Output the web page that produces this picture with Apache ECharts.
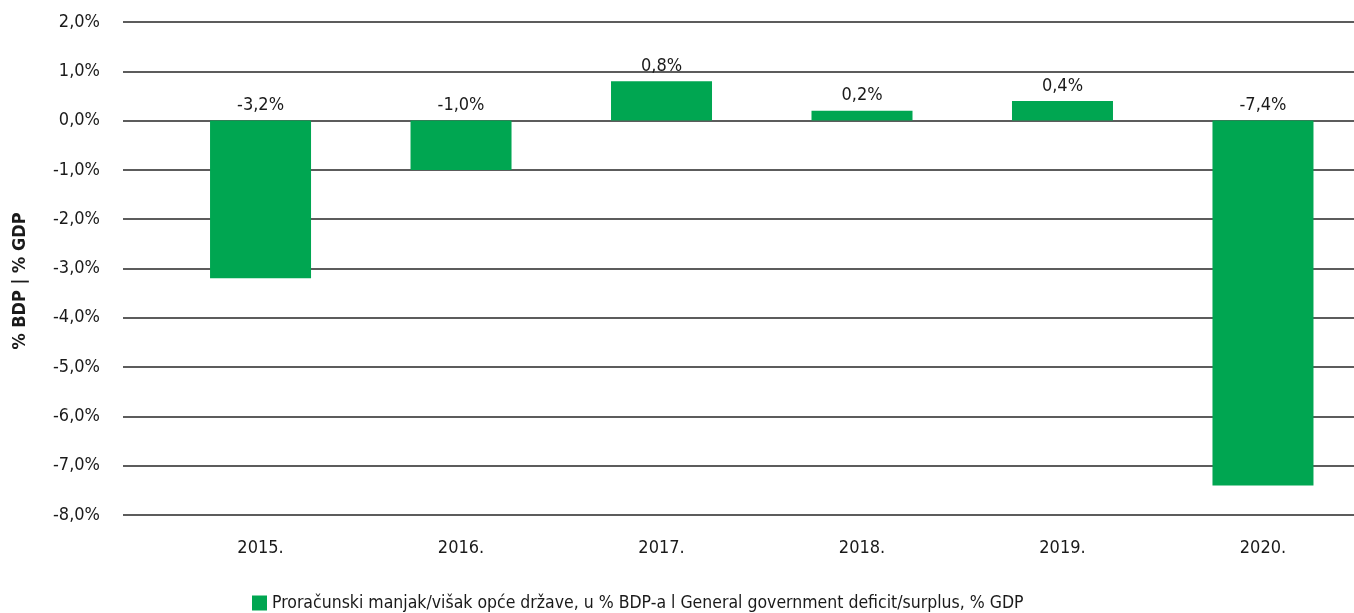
<!DOCTYPE html>
<html>
<head>
<meta charset="utf-8">
<script src="https://cdn.jsdelivr.net/npm/echarts@6/dist/echarts.min.js"></script>
<style>
html,body{margin:0;padding:0;background:#fff;}
#chart{width:1354px;height:613px;}
</style>
</head>
<body>
<div id="chart"></div>
<script>
const categories = ['2015.', '2016.', '2017.', '2018.', '2019.', '2020.'];
const values = [-3.2, -1.0, 0.8, 0.2, 0.4, -7.4];
const seriesName = 'Proračunski manjak/višak opće države, u % BDP-a l General government deficit/surplus, % GDP';
const yAxisName = '% BDP | % GDP';
const yMin = -8, yMax = 2, yStep = 1;

const FONT = '"DejaVu Sans Condensed", "Liberation Sans Narrow", sans-serif';
const TXT = '#1a1a1a';
const fmt = v => v.toFixed(1).replace('.', ',') + '%';

// category slots on a numeric x scale: slot i sits at x = i
const xMin = -0.686, xMax = 5.454;
const barData = values.map((v, i) => [i, v]);

const chart = echarts.init(document.getElementById('chart'), null, {renderer: 'canvas'});
chart.setOption({
  animation: false,
  backgroundColor: '#fff',
  textStyle: {fontFamily: FONT, color: TXT},
  grid: {left: 123, right: 0, top: 22, bottom: 98, containLabel: false},
  xAxis: {
    type: 'value', min: xMin, max: xMax,
    axisLine: {show: false}, axisTick: {show: false}, splitLine: {show: false},
    axisLabel: {fontFamily: FONT, fontSize: 18, color: TXT, margin: 24,
      showMinLabel: false, showMaxLabel: false,
      formatter: v => (Number.isInteger(v) && categories[v] !== undefined) ? categories[v] : ''}
  },
  yAxis: {
    type: 'value', min: yMin, max: yMax, interval: yStep,
    axisLine: {show: false}, axisTick: {show: false},
    splitLine: {lineStyle: {color: '#262626', width: 1.6}},
    axisLabel: {fontFamily: FONT, fontSize: 18, color: TXT, margin: 23, formatter: fmt}
  },
  graphic: [{
    type: 'text',
    x: 20, y: 281,
    rotation: Math.PI / 2,
    style: {text: yAxisName, fontFamily: FONT, fontSize: 18, fontWeight: 'bold', fill: TXT,
      align: 'center', verticalAlign: 'middle'}
  }],
  legend: {
    left: 247, top: 589,
    icon: 'rect', itemWidth: 15, itemHeight: 15, itemGap: 10,
    textStyle: {fontFamily: FONT, fontSize: 17.5, color: TXT},
    data: [seriesName]
  },
  series: [{
    name: seriesName,
    type: 'bar',
    barWidth: 101,
    data: barData,
    itemStyle: {color: '#00A651'},
    label: {show: true, position: 'top', distance: 6, fontFamily: FONT, fontSize: 18, color: TXT,
      formatter: p => fmt(p.value[1])}
  }]
});
</script>
</body>
</html>
